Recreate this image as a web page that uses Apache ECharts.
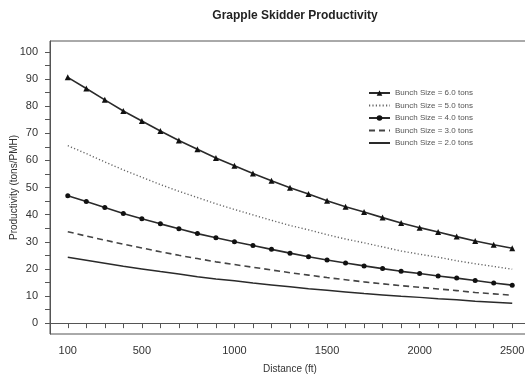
<!DOCTYPE html>
<html>
<head>
<meta charset="utf-8">
<title>Grapple Skidder Productivity</title>
<script src="https://cdn.jsdelivr.net/npm/echarts@6/dist/echarts.min.js"></script>
<style>
  html, body { margin: 0; padding: 0; background: #fff; }
  #chart { width: 525px; height: 375px; }
</style>
</head>
<body>
<div id="chart"></div>
<script>
// Skidding distance (ft), one point every 100 ft
const distances = [100, 200, 300, 400, 500, 600, 700, 800, 900, 1000, 1100, 1200, 1300,
  1400, 1500, 1600, 1700, 1800, 1900, 2000, 2100, 2200, 2300, 2400, 2500];

// Productivity (tons/PMH) by bunch size
const bunch6 = [90.6, 86.5, 82.3, 78.2, 74.5, 70.8, 67.3, 64.1, 60.9, 58.0, 55.2, 52.5, 49.9,
  47.6, 45.1, 42.9, 41.0, 38.9, 36.9, 35.2, 33.6, 31.9, 30.3, 28.9, 27.6];
const bunch5 = [65.4, 62.5, 59.4, 56.5, 53.8, 51.1, 48.6, 46.3, 44.0, 41.9, 39.9, 37.9, 36.0,
  34.4, 32.6, 31.0, 29.6, 28.1, 26.6, 25.4, 24.3, 23.0, 21.9, 20.9, 19.9];
const bunch4 = [47.0, 44.8, 42.6, 40.4, 38.5, 36.6, 34.8, 33.0, 31.5, 30.0, 28.6, 27.2, 25.8,
  24.5, 23.3, 22.2, 21.1, 20.1, 19.1, 18.3, 17.4, 16.6, 15.7, 14.8, 14.0];
const bunch3 = [33.7, 32.1, 30.6, 29.1, 27.7, 26.3, 25.0, 23.8, 22.6, 21.6, 20.6, 19.6, 18.6,
  17.7, 16.8, 16.0, 15.2, 14.5, 13.8, 13.2, 12.6, 12.0, 11.3, 10.8, 10.3];
const bunch2 = [24.3, 23.2, 22.1, 21.0, 20.0, 19.0, 18.1, 17.1, 16.3, 15.6, 14.8, 14.1, 13.4,
  12.7, 12.1, 11.5, 10.9, 10.4, 9.9, 9.5, 9.0, 8.6, 8.1, 7.7, 7.3];

const seriesNames = ['Bunch Size = 6.0 tons', 'Bunch Size = 5.0 tons', 'Bunch Size = 4.0 tons',
  'Bunch Size = 3.0 tons', 'Bunch Size = 2.0 tons'];
// Which series carry point markers (others show a plain line in the legend)
const hasMarker = [true, false, true, false, false];

// Axis ticks and labels
const xLabelValues = [100, 500, 1000, 1500, 2000, 2500];
const xTickValues = distances;
const yLabelValues = [0, 10, 20, 30, 40, 50, 60, 70, 80, 90, 100];
const yTickValues = [0, 5, 10, 15, 20, 25, 30, 35, 40, 45, 50, 55, 60, 65, 70, 75, 80, 85, 90, 95, 100];

const pairs = ys => distances.map((d, i) => [d, ys[i]]);

const axisColor = '#555';
const lineColor = '#2a2a2a';
const font = 'Liberation Sans, Arial, sans-serif';

const chart = echarts.init(document.getElementById('chart'), null, { renderer: 'canvas' });

chart.setOption({
  animation: false,
  backgroundColor: '#fff',
  title: {
    text: 'Grapple Skidder Productivity',
    left: 290,
    top: 5,
    textAlign: 'center',
    textStyle: { fontFamily: font, fontSize: 12, fontWeight: 'bold', color: '#222' }
  },
  legend: {
    orient: 'vertical',
    left: 363,
    top: 84,
    itemWidth: 21,
    itemHeight: 7,
    itemGap: 4.5,
    data: seriesNames.map((name, i) => hasMarker[i]
      ? { name }
      : { name, itemStyle: { opacity: 0 } }),
    textStyle: { fontFamily: font, fontSize: 8, color: '#555' }
  },
  grid: {
    left: 50,
    right: -5,
    top: 41,
    bottom: 41,
    outerBoundsMode: 'none',
    containLabel: false,
    show: true,
    borderColor: axisColor,
    borderWidth: 1,
    backgroundColor: 'transparent'
  },
  xAxis: {
    type: 'value',
    min: 4,
    max: 2596,
    name: 'Distance (ft)',
    nameLocation: 'middle',
    nameGap: 30,
    nameMoveOverlap: false,
    nameTextStyle: { fontFamily: font, fontSize: 10, color: '#333' },
    splitLine: { show: false },
    axisLine: { show: true, lineStyle: { color: axisColor, width: 1 } },
    axisTick: { show: true, length: 5, customValues: xTickValues, lineStyle: { color: axisColor } },
    axisLabel: {
      customValues: xLabelValues, margin: 11, fontFamily: font, fontSize: 11, color: '#333',
      formatter: v => String(v)
    }
  },
  yAxis: {
    type: 'value',
    min: -4,
    max: 104,
    name: 'Productivity (tons/PMH)',
    nameLocation: 'middle',
    nameGap: 31,
    nameMoveOverlap: false,
    nameTextStyle: { fontFamily: font, fontSize: 10, color: '#333' },
    splitLine: { show: false },
    axisLine: { show: true, lineStyle: { color: axisColor, width: 1 } },
    axisTick: { show: true, length: 5, customValues: yTickValues, lineStyle: { color: axisColor } },
    axisLabel: {
      customValues: yLabelValues, margin: 12, fontFamily: font, fontSize: 11, color: '#333',
      formatter: v => String(v)
    }
  },
  series: [
    {
      name: seriesNames[0], type: 'line', data: pairs(bunch6),
      symbol: 'triangle', symbolSize: 6,
      itemStyle: { color: '#111' },
      lineStyle: { color: lineColor, width: 1.6 }
    },
    {
      name: seriesNames[1], type: 'line', data: pairs(bunch5),
      symbol: 'none',
      itemStyle: { color: '#666' },
      lineStyle: { color: '#666', width: 1.4, type: [1.2, 2.2] }
    },
    {
      name: seriesNames[2], type: 'line', data: pairs(bunch4),
      symbol: 'circle', symbolSize: 5,
      itemStyle: { color: '#111' },
      lineStyle: { color: lineColor, width: 1.6 }
    },
    {
      name: seriesNames[3], type: 'line', data: pairs(bunch3),
      symbol: 'none',
      itemStyle: { color: '#444' },
      lineStyle: { color: '#444', width: 1.6, type: [6, 4] }
    },
    {
      name: seriesNames[4], type: 'line', data: pairs(bunch2),
      symbol: 'none',
      itemStyle: { color: lineColor },
      lineStyle: { color: lineColor, width: 1.5 }
    }
  ]
});
</script>
</body>
</html>
